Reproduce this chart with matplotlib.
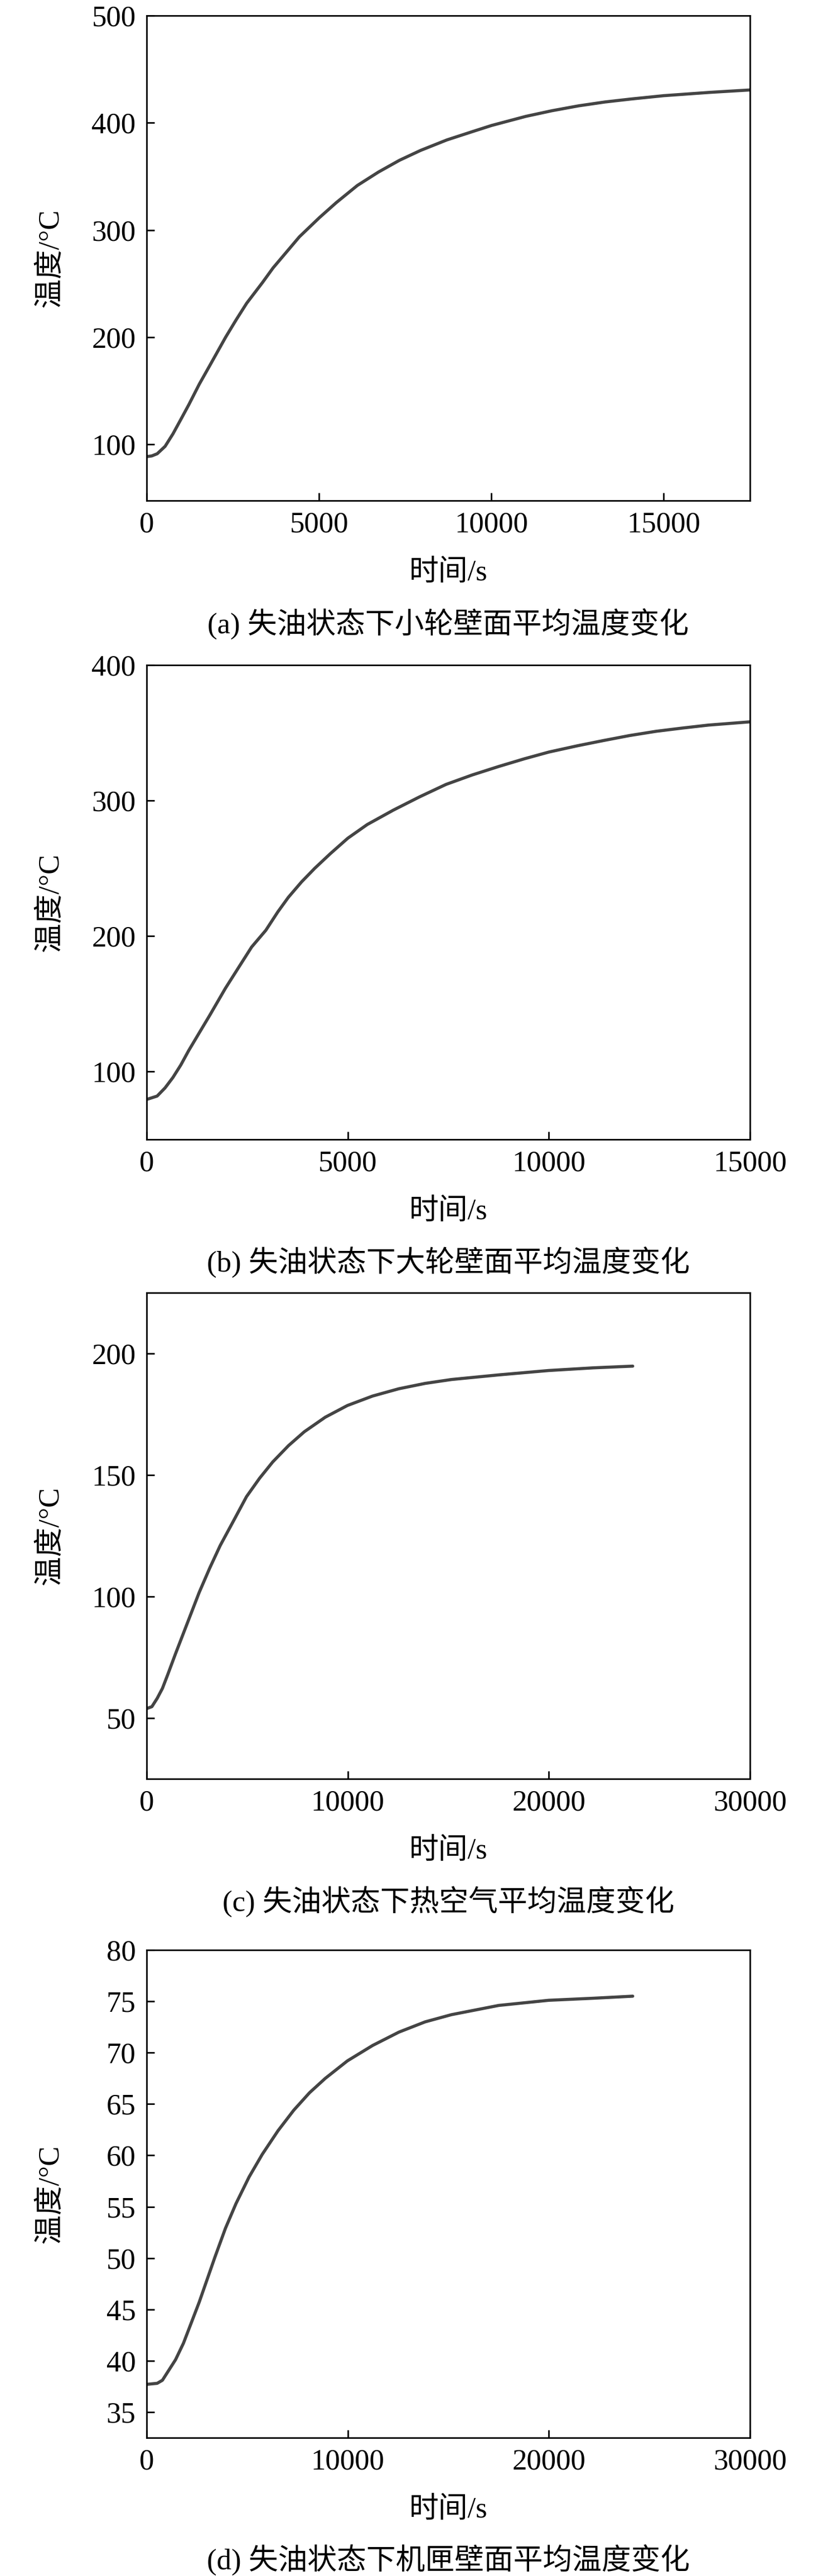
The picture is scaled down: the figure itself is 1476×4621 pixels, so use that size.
import matplotlib
matplotlib.use("Agg")
import matplotlib.pyplot as plt

plt.rcParams['font.family'] = ['Liberation Serif', 'Noto Sans CJK SC', 'DejaVu Sans']

# ---------------- data ----------------
# (a) small wheel wall average temperature
t_a = [0, 150, 306, 535, 764, 993, 1222, 1528, 1833, 2292, 2597, 2903, 3361,
       3667, 4125, 4430, 5011, 5500, 6111, 6722, 7333, 7944, 8708, 9472,
       10006, 11000, 11763, 12527, 13291, 14054, 15000, 16346, 17537]
T_a = [88.5, 89.2, 91.2, 98.1, 109.8, 123.3, 136.9, 156.2, 173.6, 200.0,
       216.2, 231.7, 251.0, 264.6, 282.0, 293.6, 311.5, 325.5, 341.5, 354.0,
       365.0, 374.2, 384.0, 392.0, 397.5, 406.0, 411.3, 415.8, 419.4, 422.2,
       425.3, 428.4, 430.7]

# (b) large wheel wall average temperature
t_b = [0, 261, 457, 653, 849, 1044, 1305, 1567, 1958, 2285, 2611, 2963, 3264,
       3525, 3851, 4178, 4569, 5000, 5483, 6136, 6789, 7441, 8094, 8747,
       9399, 10000, 10705, 11358, 12010, 12663, 13316, 13969, 15000]
T_b = [79.5, 82.0, 88.0, 95.7, 104.9, 115.5, 128.5, 141.5, 161.5, 176.8,
       192.0, 204.3, 218.0, 228.7, 240.0, 250.0, 260.9, 272.2, 282.3, 293.0,
       302.8, 311.9, 318.9, 325.1, 330.9, 335.8, 340.4, 344.3, 348.0, 351.1,
       353.5, 355.7, 358.1]

# (c) hot air average temperature
t_c = [0, 261, 523, 784, 1045, 1437, 1829, 2221, 2613, 3136, 3658, 4311,
       4965, 5618, 6271, 7055, 7839, 8884, 9982, 11236, 12543, 13849, 15156,
       17507, 19990, 22211, 24170]
T_c = [53.9, 54.7, 58.1, 62.2, 67.8, 76.5, 84.9, 93.3, 101.7, 111.7, 121.0,
       131.0, 141.1, 148.7, 155.4, 162.1, 167.8, 173.8, 178.6, 182.5, 185.5,
       187.7, 189.3, 191.2, 193.0, 194.1, 194.8]

# (d) casing wall average temperature
t_d = [0, 523, 784, 1045, 1437, 1829, 2221, 2613, 3005, 3397, 3919, 4442,
       5095, 5749, 6533, 7316, 8100, 8884, 9982, 11236, 12543, 13849, 15156,
       17507, 19990, 22211, 24170]
T_d = [37.7, 37.8, 38.1, 38.9, 40.1, 41.7, 43.7, 45.7, 47.9, 50.1, 52.9,
       55.3, 57.9, 60.1, 62.4, 64.4, 66.1, 67.5, 69.2, 70.7, 72.0, 73.0,
       73.7, 74.6, 75.1, 75.3, 75.5]

xticks_a = [0, 5000, 10000, 15000]
yticks_a = [100, 200, 300, 400, 500]
xticks_b = [0, 5000, 10000, 15000]
yticks_b = [100, 200, 300, 400]
xticks_c = [0, 10000, 20000, 30000]
yticks_c = [50, 100, 150, 200]
xticks_d = [0, 10000, 20000, 30000]
yticks_d = [35, 40, 45, 50, 55, 60, 65, 70, 75, 80]

captions = ["(a) 失油状态下小轮壁面平均温度变化",
            "(b) 失油状态下大轮壁面平均温度变化",
            "(c) 失油状态下热空气平均温度变化",
            "(d) 失油状态下机匣壁面平均温度变化"]
xlabel = "时间/s"
ylabel = "温度/°C"

# ---------------- layout ----------------
W, H = 1476, 4621
fig = plt.figure(figsize=(W / 100, H / 100), dpi=100)

left_px, right_px = 263, 1345
panels = [
    dict(t=t_a, T=T_a, xt=xticks_a, yt=yticks_a, xlim=(0, 17500), ylim=(47.5, 500), top=28, bot=898, cap=1120),
    dict(t=t_b, T=T_b, xt=xticks_b, yt=yticks_b, xlim=(0, 15000), ylim=(50, 400), top=1193, bot=2044, cap=2265),
    dict(t=t_c, T=T_c, xt=xticks_c, yt=yticks_c, xlim=(0, 30000), ylim=(25, 225), top=2319, bot=3191, cap=3412),
    dict(t=t_d, T=T_d, xt=xticks_d, yt=yticks_d, xlim=(0, 30000), ylim=(32.5, 80), top=3498, bot=4373, cap=4593),
]

FS = 38
for i, p in enumerate(panels):
    h_px = p['bot'] - p['top']
    ax = fig.add_axes([left_px / W, (H - p['bot']) / H, (right_px - left_px) / W, h_px / H])
    ax.plot(p['t'], p['T'], color='#444444', lw=4.0, solid_capstyle='round',
            solid_joinstyle='round')
    ax.set_xlim(*p['xlim'])
    ax.set_ylim(*p['ylim'])
    ax.set_xticks(p['xt'])
    ax.set_yticks(p['yt'])
    ax.set_xticklabels([str(v) for v in p['xt']])
    ax.set_yticklabels([str(v) for v in p['yt']])
    for s in ax.spines.values():
        s.set_linewidth(2.0)
    ax.tick_params(axis='both', direction='in', length=10, width=2.0,
                   labelsize=FS, top=False, right=False)
    ax.tick_params(axis='x', pad=14)
    ax.tick_params(axis='y', pad=14)
    ax.set_xlabel(xlabel, fontsize=FS, va='center')
    ax.xaxis.set_label_coords(0.5, -130 / h_px)
    ax.set_ylabel(ylabel, fontsize=FS, va='center')
    ax.yaxis.set_label_coords((90 - left_px) / (right_px - left_px), 0.5)
    fig.text((left_px + right_px) / 2 / W, 1 - p['cap'] / H, captions[i],
             fontsize=FS, ha='center', va='center')

fig.savefig("out.png", dpi=100, facecolor='white')
